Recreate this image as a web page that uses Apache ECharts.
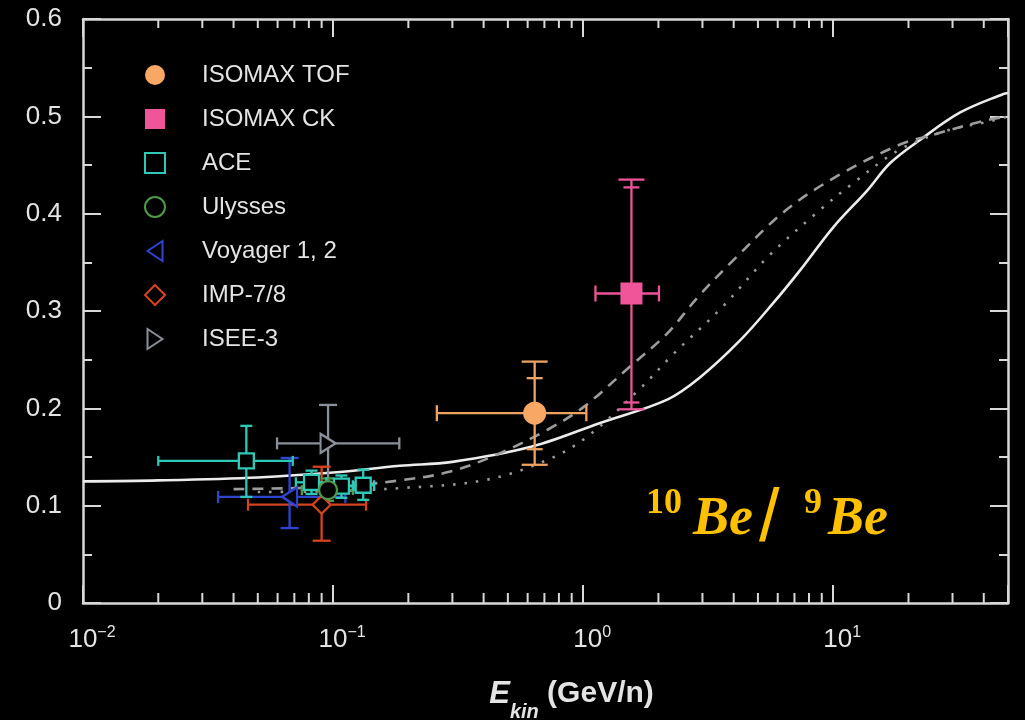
<!DOCTYPE html>
<html><head><meta charset="utf-8">
<script src="https://cdn.jsdelivr.net/npm/echarts@6/dist/echarts.min.js"></script>
<style>html,body{margin:0;padding:0;background:#000;}#c{width:1025px;height:720px;}</style>
</head><body><div id="c"></div>
<script>
// ---- model curves (energy GeV/n, 10Be/9Be ratio) ----
const solidE  = [0.01, 0.02, 0.05, 0.1, 0.185, 0.3, 0.63, 1.17, 2.17, 2.94, 4.25, 5.75, 7.38, 10, 13.7, 16.9, 22.3, 32.2, 47.9, 50];
const solidR  = [0.125, 0.126, 0.129, 0.134, 0.141, 0.145, 0.161, 0.185, 0.209, 0.232, 0.270, 0.308, 0.342, 0.386, 0.424, 0.452, 0.476, 0.504, 0.523, 0.524];
const dashE   = [0.04, 0.07, 0.1, 0.185, 0.294, 0.466, 0.72, 1.0, 1.54, 2.17, 2.87, 3.98, 6.5, 10.6, 18.5, 25, 41, 50];
const dashR   = [0.117, 0.118, 0.119, 0.126, 0.135, 0.154, 0.178, 0.201, 0.243, 0.277, 0.314, 0.352, 0.404, 0.440, 0.471, 0.481, 0.496, 0.500];
const dotE    = [0.05, 0.1, 0.185, 0.4, 0.72, 1.04, 1.67, 2.3, 3.6, 5.5, 8.6, 12.1, 18.5, 29, 41, 50];
const dotR    = [0.114, 0.115, 0.118, 0.126, 0.147, 0.171, 0.219, 0.256, 0.304, 0.356, 0.401, 0.432, 0.466, 0.486, 0.494, 0.500];

// ---- measurements: [E, ratio, Elo, Ehi, ratioLo, ratioHi, statLo, statHi] ----
const isomaxTof = [[0.64, 0.195, 0.26, 1.03, 0.142, 0.248, 0.158, 0.231]];
const isomaxCk  = [[1.56, 0.318, 1.12, 2.01, 0.199, 0.435, 0.206, 0.427]];
const ace       = [[0.045, 0.146, 0.020, 0.069, 0.109, 0.182, null, null],
                   [0.082, 0.124, 0.071, 0.094, 0.112, 0.136, null, null],
                   [0.108, 0.120, 0.096, 0.121, 0.108, 0.131, null, null],
                   [0.132, 0.121, 0.120, 0.146, 0.106, 0.137, null, null]];
const ulysses   = [[0.0955, 0.116, 0.075, 0.120, 0.105, 0.128, null, null]];
const voyager   = [[0.067, 0.109, 0.0347, 0.112, 0.077, 0.149, null, null]];
const imp78     = [[0.090, 0.101, 0.0457, 0.1355, 0.064, 0.140, null, null]];
const isee3     = [[0.0955, 0.164, 0.0597, 0.184, 0.123, 0.2035, null, null]];

// ---- axis tick values ----
const xMinorTicks = [0.02,0.03,0.04,0.05,0.06,0.07,0.08,0.09, 0.2,0.3,0.4,0.5,0.6,0.7,0.8,0.9, 2,3,4,5,6,7,8,9, 20,30,40];
const legendNames = ['ISOMAX TOF', 'ISOMAX CK', 'ACE', 'Ulysses', 'Voyager 1, 2', 'IMP-7/8', 'ISEE-3'];

const FG = '#e4e4e4';
const FONT = 'Liberation Sans, Arial, sans-serif';
const SQ = 'path://M0,0 L10,0 L10,10 L0,10 Z';
const DIA = 'path://M5,0 L10,5 L5,10 L0,5 Z';
const LTRI = 'path://M9,0 L9,12 L0,6 Z';
const RTRI = 'path://M0,0 L9,6 L0,12 Z';

function pair(a, b) { return a.map((v, i) => [v, b[i]]); }

function errRender(capV, capH, innerCap, lw) {
  return function (params, api) {
    const x = api.value(0), y = api.value(1);
    const c = api.coord([x, y]);
    const xl = api.coord([api.value(2), y])[0], xh = api.coord([api.value(3), y])[0];
    const yl = api.coord([x, api.value(4)])[1], yh = api.coord([x, api.value(5)])[1];
    const col = api.visual('color');
    const st = { stroke: col, lineWidth: lw, fill: null };
    const L = (x1, y1, x2, y2) => ({ type: 'line', shape: { x1, y1, x2, y2 }, style: st });
    const ch = [
      L(xl, c[1], xh, c[1]), L(xl, c[1] - capV, xl, c[1] + capV), L(xh, c[1] - capV, xh, c[1] + capV),
      L(c[0], yl, c[0], yh), L(c[0] - capH, yl, c[0] + capH, yl), L(c[0] - capH, yh, c[0] + capH, yh)
    ];
    const sl = api.value(6), sh = api.value(7);
    if (sl != null && !isNaN(sl)) {
      const a = api.coord([x, sl])[1], b = api.coord([x, sh])[1];
      ch.push(L(c[0] - innerCap, a, c[0] + innerCap, a), L(c[0] - innerCap, b, c[0] + innerCap, b));
    }
    return { type: 'group', children: ch };
  };
}

function errSeries(name, data, color, capV, capH, innerCap) {
  return { type: 'custom', name: name + ' err', data: data, itemStyle: { color: color },
    encode: { x: 0, y: 1 }, renderItem: errRender(capV, capH, innerCap, 2.3), z: 3, silent: true };
}
function markSeries(name, data, symbol, size, fill, border) {
  return { type: 'scatter', name: name, data: data.map(d => [d[0], d[1]]), symbol: symbol, symbolSize: size,
    symbolKeepAspect: false,
    itemStyle: { color: fill, borderColor: border, borderWidth: fill === '#000' ? 2.3 : 0, opacity: 1 }, z: 4 };
}

const chart = echarts.init(document.getElementById('c'));
const xAxisBase = {
  type: 'log', logBase: 10, min: 0.01, max: 50, interval: 1,
  axisLine: { show: true, onZero: false, lineStyle: { color: '#d8d8d8', width: 2.5 } },
  axisTick: { show: true, inside: true, length: 18, lineStyle: { color: '#d8d8d8', width: 2 } },
  splitLine: { show: false }, minorTick: { show: false }, minorSplitLine: { show: false }
};
const yAxisBase = {
  type: 'value', min: 0, max: 0.6, interval: 0.1,
  axisLine: { show: true, onZero: false, lineStyle: { color: '#d8d8d8', width: 2.5 } },
  axisTick: { show: true, inside: true, length: 18, lineStyle: { color: '#d8d8d8', width: 2 } },
  minorTick: { show: true, splitNumber: 2, length: 9, lineStyle: { color: '#d8d8d8', width: 2 } },
  splitLine: { show: false }
};

const option = {
  backgroundColor: '#000',
  animation: false,
  grid: { left: 83, right: 17, top: 19, bottom: 117, containLabel: false, outerBoundsMode: 'none' },
  legend: {
    data: legendNames, orient: 'vertical', left: 139, top: 58,
    itemWidth: 84, itemHeight: 20, itemGap: 20, symbolKeepAspect: true,
    textStyle: { color: FG, fontSize: 24, fontFamily: FONT, lineHeight: 20 },
    selectedMode: false
  },
  xAxis: [
    Object.assign({}, xAxisBase, {
      position: 'bottom',
      axisLabel: {
        margin: 22, padding: [0, 0, 0, 18], color: FG,
        formatter: function (v) {
          const e = Math.log10(v), r = Math.round(e);
          if (Math.abs(e - r) > 1e-6) return '';
          return '{b|10}{s|' + (r < 0 ? '\u2212' + (-r) : r) + '}';
        },
        rich: {
          b: { fontSize: 26, fontFamily: FONT, color: FG, lineHeight: 30 },
          s: { fontSize: 16, fontFamily: FONT, color: FG, verticalAlign: 'top', lineHeight: 16 }
        }
      },
      name: '{e|E}{k|kin}{g| (GeV/n)}', nameLocation: 'middle', nameGap: 74,
      nameTextStyle: {
        padding: [0, 0, 0, 52],
        rich: {
          e: { fontSize: 31, fontWeight: 'bold', fontStyle: 'italic', fontFamily: FONT, color: FG, lineHeight: 34 },
          k: { fontSize: 20, fontWeight: 'bold', fontStyle: 'italic', fontFamily: FONT, color: FG, verticalAlign: 'bottom', lineHeight: 12, padding: [0, 0, -11, 0] },
          g: { fontSize: 30, fontWeight: 'bold', fontFamily: FONT, color: FG, lineHeight: 34 }
        }
      }
    }),
    Object.assign({}, xAxisBase, { position: 'top', axisLabel: { show: false } })
  ],
  yAxis: [
    Object.assign({}, yAxisBase, { position: 'left',
      axisLabel: { margin: 21, color: FG, fontSize: 26, fontFamily: FONT,
        formatter: v => (Math.round(v * 10) / 10).toString() } }),
    Object.assign({}, yAxisBase, { position: 'right', axisLabel: { show: false } })
  ],
  graphic: [
    { type: 'text', left: 646, top: 486, style: { text: '10', fill: '#FFC000', font: 'bold 36px "Liberation Serif", serif' } },
    { type: 'text', left: 693, top: 493, style: { text: 'Be', fill: '#FFC000', font: 'italic bold 54px "Liberation Serif", serif' } },
    { type: 'text', left: 759, top: 484, style: { text: '/', fill: '#FFC000', font: '74px "Liberation Sans", sans-serif' } },
    { type: 'text', left: 804, top: 486, style: { text: '9', fill: '#FFC000', font: 'bold 36px "Liberation Serif", serif' } },
    { type: 'text', left: 828, top: 493, style: { text: 'Be', fill: '#FFC000', font: 'italic bold 54px "Liberation Serif", serif' } }
  ],
  series: [
    { type: 'custom', name: 'minor', silent: true, data: xMinorTicks.map(v => [v, 0]), encode: { x: 0, y: 1 },
      renderItem: function (params, api) {
        const v = api.value(0);
        const b = api.coord([v, 0]), t = api.coord([v, 0.6]);
        const st = { stroke: '#d8d8d8', lineWidth: 2 };
        return { type: 'group', children: [
          { type: 'line', shape: { x1: b[0], y1: b[1], x2: b[0], y2: b[1] - 10 }, style: st },
          { type: 'line', shape: { x1: t[0], y1: t[1], x2: t[0], y2: t[1] + 9 }, style: st }
        ] };
      }, z: 1 },
    { type: 'line', name: 'model solid', data: pair(solidE, solidR), showSymbol: false, smooth: 0.35,
      lineStyle: { color: '#ececec', width: 2.6 }, z: 2, silent: true },
    { type: 'line', name: 'model dashed', data: pair(dashE, dashR), showSymbol: false, smooth: 0.35,
      lineStyle: { color: '#9c9c9c', width: 2.6, type: [11, 8] }, z: 2, silent: true },
    { type: 'line', name: 'model dotted', data: pair(dotE, dotR), showSymbol: false, smooth: 0.35,
      lineStyle: { color: '#9a9a9a', width: 2.6, type: [2.5, 9] }, z: 2, silent: true },
    errSeries('ISEE-3', isee3, '#8a909a', 6, 9, 0),
    errSeries('IMP-7/8', imp78, '#d5441e', 6, 9, 0),
    errSeries('Voyager 1, 2', voyager, '#2f45d0', 6, 9, 0),
    errSeries('Ulysses', ulysses, '#4e9a4a', 5, 6, 0),
    errSeries('ACE', ace, '#2ec8b6', 5, 6, 0),
    errSeries('ISOMAX TOF', isomaxTof, '#f0a262', 8, 13, 8),
    errSeries('ISOMAX CK', isomaxCk, '#ea559a', 8, 13, 8),
    markSeries('ISEE-3', isee3, RTRI, [15, 19], '#000', '#8a909a'),
    markSeries('IMP-7/8', imp78, DIA, [18, 18], '#000', '#d5441e'),
    markSeries('Voyager 1, 2', voyager, LTRI, [15, 19], '#000', '#2f45d0'),
    markSeries('ACE', ace, SQ, [15, 15], '#000', '#2ec8b6'),
    markSeries('Ulysses', ulysses, 'circle', 18, '#000', '#4e9a4a'),
    markSeries('ISOMAX TOF', isomaxTof, 'circle', 23, '#f9a765', null),
    markSeries('ISOMAX CK', isomaxCk, SQ, [22, 22], '#f0559a', null)
  ]
};
chart.setOption(option);
</script></body></html>
